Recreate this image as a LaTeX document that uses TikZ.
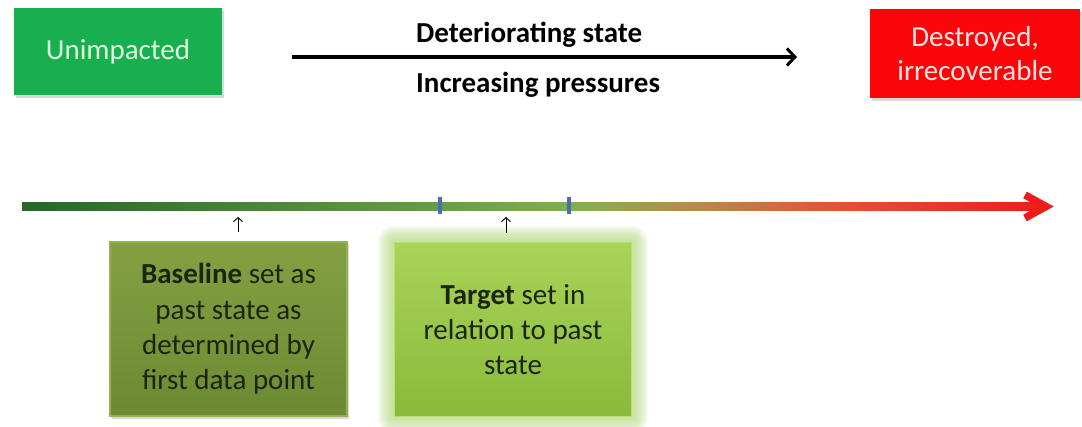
\documentclass[tikz,border=0pt]{standalone}
\usepackage{fontspec}
\setmainfont{Carlito}
\usetikzlibrary{arrows.meta}
\usetikzlibrary{shadows}
\usetikzlibrary{backgrounds}

\definecolor{unimpgreen}{RGB}{24,176,78}
\definecolor{unimptext}{RGB}{222,248,222}
\definecolor{destroyedred}{RGB}{250,6,10}
\definecolor{destroyedtext}{RGB}{255,228,225}
\definecolor{notetext}{RGB}{28,36,16}
\definecolor{olivetop}{RGB}{132,160,66}
\definecolor{olivebottom}{RGB}{108,138,50}
\definecolor{oliveedge}{RGB}{150,176,86}
\definecolor{limetop}{RGB}{168,212,88}
\definecolor{limebottom}{RGB}{138,186,58}
\definecolor{limeedge}{RGB}{186,224,112}
\definecolor{glowgreen}{RGB}{176,214,120}
\definecolor{limitblue}{RGB}{72,112,170}
\definecolor{bar0}{RGB}{34,104,40}
\definecolor{bar1}{RGB}{104,158,66}
\definecolor{bar2}{RGB}{132,176,76}
\definecolor{bar3}{RGB}{188,136,72}
\definecolor{bar4}{RGB}{226,78,48}
\definecolor{bar5}{RGB}{238,28,24}

\tikzset{
  statebox/.style = {rectangle, minimum height = 87pt,
    font = \fontsize{29}{34}\selectfont, align = center,
    drop shadow = {shadow xshift = 2pt, shadow yshift = -3pt, opacity = .3}},
  notebox/.style = {rectangle, minimum width = 237pt, minimum height = 174pt,
    font = \fontsize{29}{35.3}\selectfont, align = center, text = notetext,
    line width = 1.5pt},
  caption/.style = {anchor = base west, inner sep = 0pt,
    font = \bfseries\fontsize{29}{34}\selectfont},
  trend/.style = {-{Straight Barb[length = 8pt, width = 17pt, line width = 3pt]},
    line width = 3.2pt},
  pointer/.style = {-{Straight Barb[length = 4pt, width = 9pt]}, line width = .9pt}
}

\begin{document}
\begin{tikzpicture}[x = 1pt, y = -1pt]
  \useasboundingbox (0, 0) rectangle (1082, 427);

  \node[statebox, fill = unimpgreen, text = unimptext, minimum width = 208pt]
    (unimp) at (118, 52) {Unimpacted};
  \node[statebox, fill = destroyedred, text = destroyedtext, minimum width = 210pt,
    minimum height = 89pt] (destroyed) at (975, 53.5) {Destroyed,\\irrecoverable};

  \coordinate (trend start) at (292, 57);
  \coordinate (trend end) at (797, 57);
  \draw[trend] (trend start) -- (trend end);

  \node[caption] (deteriorating) at (416, 43) {Deteriorating state};
  \node[caption] (increasing) at (416, 93) {Increasing pressures};

  % timeline, green to red
  \foreach \xa/\xb/\ca/\cb in {22/440.5/bar0/bar1, 440/580.5/bar1/bar2,
      580/700.5/bar2/bar3, 700/860.5/bar3/bar4, 860/1044/bar4/bar5}
    \shade[left color = \ca, right color = \cb] (\xa, 202.5) rectangle (\xb, 210.5);

  \coordinate (tip) at (1046, 206.5);
  \draw[bar5, line width = 7.5pt, line join = miter] (1025, 195) -- (tip) -- (1025, 218);

  \fill[limitblue] (437.5, 197) rectangle (441.5, 214);
  \fill[limitblue] (567, 197) rectangle (571, 214);

  \node[notebox, top color = olivetop, bottom color = olivebottom, draw = oliveedge,
    drop shadow = {shadow xshift = 2pt, shadow yshift = -3pt, opacity = .3}]
    (baseline) at (228.5, 329) {\textbf{Baseline} set as\\past state as\\determined by\\first data point};
  \node[notebox, top color = limetop, bottom color = limebottom, draw = limeedge]
    (target) at (513, 329.5) {\textbf{Target} set in\\relation to past\\state};

  \begin{scope}[on background layer]
    \foreach \g in {1, ..., 16}
      \fill[glowgreen, opacity = .07, rounded corners = \g pt]
        ([shift = {(-\g pt, -\g pt)}]target.south west)
        rectangle ([shift = {(\g pt, \g pt)}]target.north east);
  \end{scope}

  \coordinate (baseline point) at (238, 217);
  \coordinate (target point) at (506, 217);
  \draw[pointer] (baseline.north -| baseline point) ++(0, -9) -- (baseline point);
  \draw[pointer] (target.north -| target point) ++(0, -9) -- (target point);
\end{tikzpicture}
\end{document}
